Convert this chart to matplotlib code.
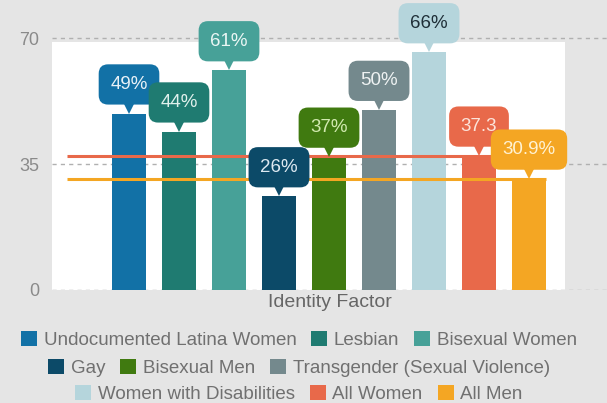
import matplotlib
matplotlib.use("Agg")
import matplotlib.pyplot as plt
from matplotlib.patches import Rectangle
from matplotlib.transforms import offset_copy

plt.rcParams['font.family'] = ['Liberation Sans', 'DejaVu Sans']

# ---- data ----
categories = ["Undocumented Latina Women", "Lesbian", "Bisexual Women",
              "Gay", "Bisexual Men", "Transgender (Sexual Violence)",
              "Women with Disabilities", "All Women", "All Men"]
values = [49, 44, 61, 26, 37, 50, 66, 37.3, 30.9]
value_labels = ["49%", "44%", "61%", "26%", "37%", "50%", "66%", "37.3", "30.9%"]
yticks = [0, 35, 70]
xlabel = "Identity Factor"

# ---- styles ----
colors = ["#1271a6", "#1f7b71", "#47a198", "#0c4a68", "#407a10",
          "#74898d", "#b5d5dc", "#e8694a", "#f4a623"]
text_colors = ["#e8f1f7", "#e0f0ec", "#eaf6f4", "#dde9f1", "#d2eab0",
               "#eef2f2", "#1f2f38", "#fce4da", "#fff2d2"]
bg = "#e5e5e5"

W, H = 607, 403
fig = plt.figure(figsize=(W / 100, H / 100), dpi=100, facecolor=bg)
left_px, right_px, bottom_px = 52, 607, 290
ymax = 72
top_px = bottom_px - ymax * 3.6
ax = fig.add_axes([left_px / W, 1 - bottom_px / H,
                   (right_px - left_px) / W, (bottom_px - top_px) / H])
ax.set_facecolor(bg)

x = list(range(len(values)))
xl = ((left_px - 129) / 50, (right_px - 129) / 50)
ax.set_xlim(*xl)
ax.set_ylim(0, ymax)

# white plot area
ax.add_patch(Rectangle((xl[0], 0), (565 - left_px) / 50, 68.97,
                       facecolor="white", edgecolor="none", zorder=0))

# grid lines
for t in yticks:
    ax.axhline(t, color="#b0b0b0", lw=1.0, ls=(0, (3, 3)), zorder=0.5)

bars = ax.bar(x, values, width=0.68, color=colors, zorder=2)
for b, lab in zip(bars, categories):
    b.set_label(lab)

# reference lines for All Women and All Men
line_x0 = x[0] - 1.24
line_x1 = x[-1] + 0.34
ax.plot([line_x0, line_x1], [values[7], values[7]], color=colors[7], lw=2.2, zorder=3,
        solid_capstyle='butt')
ax.plot([line_x0, line_x1], [values[8], values[8]], color=colors[8], lw=2.2, zorder=3,
        solid_capstyle='butt')

# callouts
fs = 13.5
pad = 0.62
ptr = 10
gap = 6.5
tr = offset_copy(ax.transData, fig=fig, x=0, y=ptr / 2, units='points')
for xi, v, lab, c, tc in zip(x, values, value_labels, colors, text_colors):
    ax.plot([xi], [v], marker='v', markersize=ptr, color=c, transform=tr,
            zorder=4, clip_on=False, markeredgewidth=0)
    ax.annotate(lab, xy=(xi, v), xytext=(0, gap + pad * fs), textcoords='offset points',
                ha='center', va='bottom', fontsize=fs, color=tc, zorder=5,
                annotation_clip=False,
                bbox=dict(boxstyle=f"round,pad={pad},rounding_size=0.5",
                          facecolor=c, edgecolor='none'))

for s in ax.spines.values():
    s.set_visible(False)
ax.set_yticks(yticks)
ax.set_yticklabels([str(t) for t in yticks])
ax.tick_params(axis='y', length=0, pad=9, labelsize=13, labelcolor="#8a8a8a")
ax.set_xticks([])
ax.set_xlabel(xlabel, fontsize=14, color="#666666", labelpad=3)

# legend: three centered rows
handles = list(bars)
rows = [handles[0:3], handles[3:6], handles[6:9]]
row_y = [340, 368, 394]
for hs, yy in zip(rows, row_y):
    fig.legend(handles=hs, labels=[h.get_label() for h in hs], loc='center',
               bbox_to_anchor=(299 / W, 1 - yy / H), ncol=len(hs), frameon=False,
               fontsize=13.5, labelcolor="#707070", handlelength=0.85,
               handleheight=0.8, handletextpad=0.35, columnspacing=0.8,
               borderpad=0, borderaxespad=0)

fig.savefig("out.png", dpi=100, facecolor=bg)
